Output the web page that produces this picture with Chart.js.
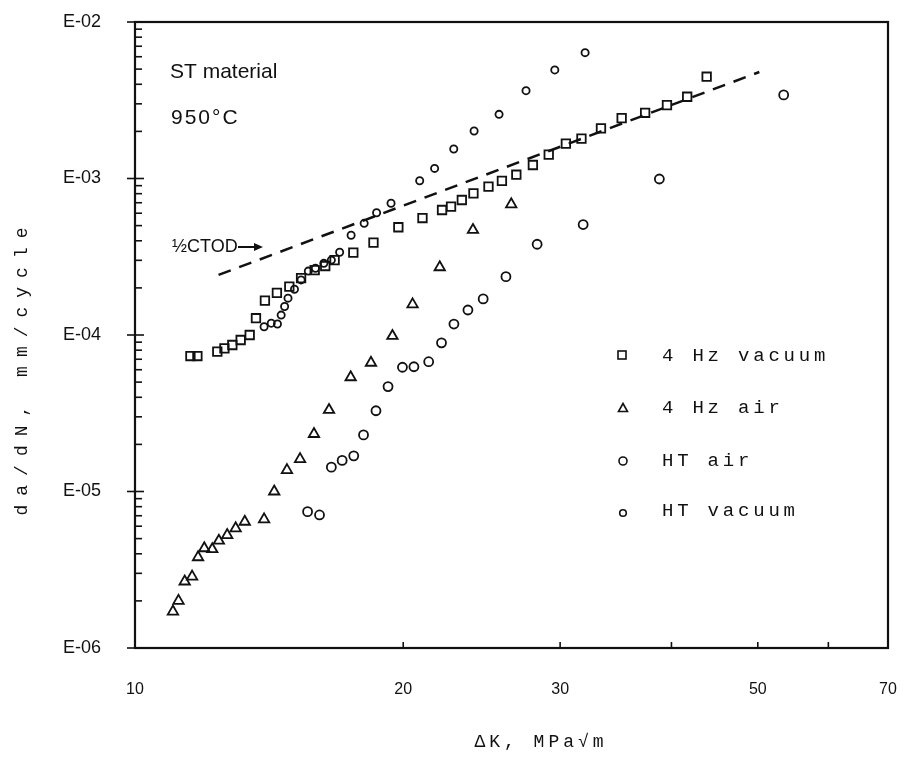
<!DOCTYPE html>
<html>
<head>
<meta charset="utf-8">
<script src="https://cdn.jsdelivr.net/npm/chart.js@4.4.1/dist/chart.umd.min.js"></script>
<style>
  html, body { margin: 0; padding: 0; background: #fff; }
  #wrap { width: 906px; height: 758px; }
</style>
</head>
<body>
<div id="wrap"><canvas id="chart" width="906" height="758"></canvas></div>
<script>
// axis ticks
const xTicks = [10, 20, 30, 50, 70];
const yTicks = [1e-6, 1e-5, 1e-4, 1e-3, 1e-2];
const yTickLabels = ['E-06', 'E-05', 'E-04', 'E-03', 'E-02'];

// 4 Hz vacuum (squares)
const vac4HzK = [11.54, 11.75, 12.37, 12.60, 12.86, 13.14, 13.45, 13.67, 13.99, 14.43, 14.90, 15.36,
  15.91, 16.35, 16.75, 17.58, 18.52, 19.75, 21.02, 22.11, 22.63, 23.27, 23.98, 24.93, 25.81, 26.79,
  27.96, 29.13, 30.45, 31.70, 33.34, 35.17, 37.37, 39.54, 41.66, 43.81];
const vac4HzRate = [7.34e-5, 7.34e-5, 7.82e-5, 8.22e-5, 8.63e-5, 9.29e-5, 1.0e-4, 1.28e-4, 1.66e-4, 1.86e-4, 2.04e-4, 2.31e-4,
  2.60e-4, 2.76e-4, 3.01e-4, 3.36e-4, 3.89e-4, 4.88e-4, 5.59e-4, 6.29e-4, 6.62e-4, 7.29e-4, 8.04e-4, 8.87e-4, 9.66e-4, 1.057e-3,
  1.22e-3, 1.42e-3, 1.67e-3, 1.80e-3, 2.09e-3, 2.43e-3, 2.63e-3, 2.94e-3, 3.33e-3, 4.47e-3];

// 4 Hz air (triangles)
const air4HzK = [11.03, 11.19, 11.37, 11.59, 11.77, 11.96, 12.21, 12.42, 12.69, 12.97, 13.28, 13.96,
  14.33, 14.81, 15.32, 15.88, 16.51, 17.46, 18.40, 19.45, 20.49, 21.98, 23.95, 26.44];
const air4HzRate = [1.71e-6, 2.00e-6, 2.66e-6, 2.86e-6, 3.80e-6, 4.34e-6, 4.28e-6, 4.85e-6, 5.27e-6, 5.82e-6, 6.41e-6, 6.64e-6,
  1.0e-5, 1.37e-5, 1.61e-5, 2.33e-5, 3.32e-5, 5.37e-5, 6.65e-5, 9.86e-5, 1.57e-4, 2.71e-4, 4.69e-4, 6.84e-4];

// HT air (circles)
const htAirK = [15.62, 16.11, 16.61, 17.08, 17.60, 18.05, 18.64, 19.23, 19.96, 20.56, 21.36, 22.08,
  22.80, 23.64, 24.59, 26.08, 28.27, 31.84, 38.77, 53.46];
const htAirRate = [7.43e-6, 7.08e-6, 1.43e-5, 1.58e-5, 1.69e-5, 2.30e-5, 3.28e-5, 4.68e-5, 6.22e-5, 6.27e-5, 6.75e-5, 8.91e-5,
  1.175e-4, 1.445e-4, 1.70e-4, 2.36e-4, 3.80e-4, 5.08e-4, 9.93e-4, 3.42e-3];

// HT vacuum (small circles)
const htVacK = [13.96, 14.22, 14.45, 14.59, 14.72, 14.85, 15.10, 15.36, 15.65, 15.94, 16.29, 16.61,
  16.97, 17.48, 18.08, 18.67, 19.38, 20.87, 21.69, 22.79, 24.02, 25.62, 27.47, 29.59, 32.00];
const htVacRate = [1.13e-4, 1.19e-4, 1.175e-4, 1.34e-4, 1.52e-4, 1.72e-4, 1.96e-4, 2.25e-4, 2.56e-4, 2.67e-4, 2.87e-4, 3.01e-4,
  3.38e-4, 4.34e-4, 5.17e-4, 6.04e-4, 6.95e-4, 9.68e-4, 1.16e-3, 1.543e-3, 2.01e-3, 2.57e-3, 3.64e-3, 4.94e-3, 6.37e-3];

// 1/2 CTOD line
const ctodK = [12.41, 50.2];
const ctodRate = [2.42e-4, 4.79e-3];

const ink = '#111';
const mono = '"Liberation Mono", "DejaVu Sans Mono", monospace';
const sans = '"Liberation Sans", Arial, sans-serif';

function pts(xs, ys) {
  return xs.map((x, i) => ({ x: x, y: ys[i] }));
}

function marker(style, r, width) {
  return {
    showLine: false,
    pointStyle: style,
    pointRadius: r,
    pointHoverRadius: r,
    pointBorderWidth: width,
    borderColor: ink,
    backgroundColor: 'rgba(0,0,0,0)',
    pointBackgroundColor: 'rgba(0,0,0,0)'
  };
}

// frame, ticks, labels and legend drawn on top
const decorations = {
  id: 'decorations',
  afterDraw(chart) {
    const ctx = chart.ctx;
    const { left, right, top, bottom } = chart.chartArea;
    const xs = chart.scales.x;
    const ys = chart.scales.y;

    ctx.save();
    ctx.strokeStyle = ink;
    ctx.fillStyle = ink;

    // frame
    ctx.lineWidth = 2.2;
    ctx.strokeRect(left, top, right - left, bottom - top);

    // y ticks
    ctx.lineWidth = 1.6;
    for (let e = -6; e <= -2; e++) {
      const py = ys.getPixelForValue(Math.pow(10, e));
      ctx.beginPath();
      ctx.moveTo(left - 8, py);
      ctx.lineTo(left + 9, py);
      ctx.stroke();
      if (e === -2) continue;
      for (let m = 2; m <= 9; m++) {
        const my = ys.getPixelForValue(m * Math.pow(10, e));
        ctx.beginPath();
        ctx.moveTo(left, my);
        ctx.lineTo(left + 7, my);
        ctx.stroke();
      }
    }
    // x ticks
    [20, 30, 40, 50, 60].forEach(v => {
      const px = xs.getPixelForValue(v);
      ctx.beginPath();
      ctx.moveTo(px, bottom);
      ctx.lineTo(px, bottom - 6);
      ctx.stroke();
    });

    // notes
    ctx.textBaseline = 'middle';
    ctx.textAlign = 'left';
    ctx.font = '21px ' + sans;
    ctx.fillText('ST material', 170, 72);
    ctx.letterSpacing = '2px';
    ctx.fillText('950\u00B0C', 171, 118);
    ctx.letterSpacing = '0px';
    ctx.font = '18px ' + sans;
    ctx.fillText('\u00BDCTOD', 172, 247);
    ctx.lineWidth = 2;
    ctx.beginPath();
    ctx.moveTo(238, 247);
    ctx.lineTo(256, 247);
    ctx.stroke();
    ctx.beginPath();
    ctx.moveTo(263, 247);
    ctx.lineTo(254, 243);
    ctx.lineTo(254, 251);
    ctx.closePath();
    ctx.fill();

    // legend
    const lx = 622, tx = 662;
    const rows = [355, 408, 461, 511];
    ctx.lineWidth = 1.6;
    ctx.strokeRect(lx - 4, rows[0] - 4, 8, 8);
    ctx.beginPath();
    ctx.moveTo(lx + 1, rows[1] - 4.5);
    ctx.lineTo(lx + 5.5, rows[1] + 3.5);
    ctx.lineTo(lx - 3.5, rows[1] + 3.5);
    ctx.closePath();
    ctx.stroke();
    ctx.beginPath();
    ctx.arc(lx + 1, rows[2], 4, 0, Math.PI * 2);
    ctx.stroke();
    ctx.beginPath();
    ctx.arc(lx + 1, rows[3] + 2, 3.3, 0, Math.PI * 2);
    ctx.stroke();

    ctx.font = '19px ' + mono;
    ctx.letterSpacing = '3.8px';
    ctx.fillText('4 Hz vacuum', tx, rows[0] + 1);
    ctx.fillText('4 Hz air', tx, rows[1]);
    ctx.fillText('HT air', tx, rows[2]);
    ctx.fillText('HT vacuum', tx, rows[3]);

    // axis titles
    ctx.font = '18px ' + mono;
    ctx.letterSpacing = '4px';
    ctx.textAlign = 'center';
    ctx.fillText('\u0394K, MPa\u221Am', 541, 742);
    ctx.save();
    ctx.translate(22, 367);
    ctx.rotate(-Math.PI / 2);
    ctx.letterSpacing = '9px';
    ctx.fillText('da/dN, mm/cycle', 0, 0);
    ctx.restore();

    ctx.restore();
  }
};

new Chart(document.getElementById('chart'), {
  type: 'scatter',
  data: {
    datasets: [
      Object.assign({ label: '4 Hz vacuum', data: pts(vac4HzK, vac4HzRate) }, marker('rect', 6, 1.8)),
      Object.assign({ label: '4 Hz air', data: pts(air4HzK, air4HzRate) }, marker('triangle', 6, 1.8)),
      Object.assign({ label: 'HT air', data: pts(htAirK, htAirRate) }, marker('circle', 4.5, 1.8)),
      Object.assign({ label: 'HT vacuum', data: pts(htVacK, htVacRate) }, marker('circle', 3.6, 1.8)),
      {
        label: '\u00BDCTOD',
        data: pts(ctodK, ctodRate),
        showLine: true,
        borderColor: ink,
        borderWidth: 2.5,
        borderDash: [13, 9],
        pointRadius: 0,
        fill: false
      }
    ]
  },
  options: {
    responsive: false,
    animation: false,
    devicePixelRatio: 1,
    layout: { padding: { left: 0, right: 18, top: 22, bottom: 0 } },
    plugins: {
      legend: { display: false },
      tooltip: { enabled: false }
    },
    scales: {
      x: {
        type: 'logarithmic',
        min: 10,
        max: 70,
        afterBuildTicks: s => { s.ticks = xTicks.map(v => ({ value: v })); },
        afterFit: s => {
          s.height = 110;
          s.paddingLeft = 0; s.paddingRight = 0; s.paddingTop = 0; s.paddingBottom = 0;
        },
        grid: { drawOnChartArea: false, drawTicks: false },
        border: { display: false },
        ticks: {
          autoSkip: false,
          maxRotation: 0,
          padding: 32,
          color: ink,
          font: { family: sans, size: 16 },
          callback: v => String(v)
        }
      },
      y: {
        type: 'logarithmic',
        min: 1e-6,
        max: 1e-2,
        afterBuildTicks: s => { s.ticks = yTicks.map(v => ({ value: v })); },
        afterFit: s => {
          s.width = 135;
          s.paddingLeft = 0; s.paddingRight = 0; s.paddingTop = 0; s.paddingBottom = 0;
        },
        grid: { drawOnChartArea: false, drawTicks: false },
        border: { display: false },
        ticks: {
          autoSkip: false,
          padding: 34,
          color: ink,
          font: { family: sans, size: 18 },
          callback: (v, i) => yTickLabels[i]
        }
      }
    }
  },
  plugins: [decorations]
});
</script>
</body>
</html>
